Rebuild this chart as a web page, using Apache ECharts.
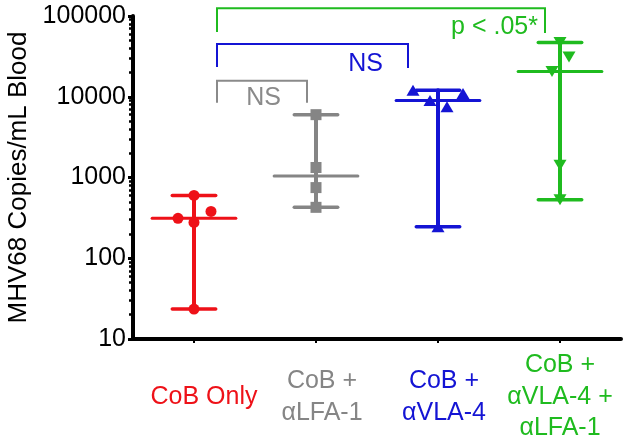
<!DOCTYPE html>
<html>
<head>
<meta charset="utf-8">
<script src="https://cdn.jsdelivr.net/npm/echarts@6/dist/echarts.min.js"></script>
<style>html,body{margin:0;padding:0;background:#fff}#c{width:628px;height:444px}</style>
</head>
<body>
<div id="c"></div>
<script>
// ---- data ----
const categories = ['CoB Only', 'CoB +\nαLFA-1', 'CoB +\nαVLA-4', 'CoB +\nαVLA-4 +\nαLFA-1'];
const cobOnly     = [600, 312, 278, 380, 23.5];
const cobLfa1     = [6000, 1330, 750, 427];
const cobVla4     = [12000, 9000, 7500, 11000, 245];
const cobVla4Lfa1 = [47000, 31000, 20500, 1420, 530];
const medians     = [312, 1040, 9000, 20500];
const yTicks      = [10, 100, 1000, 10000, 100000];
const comparisons = ['NS', 'NS', 'p < .05*'];

// ---- layout / style (not data) ----
const FONT = 'Arial, "Liberation Sans", sans-serif';
const colors = ['#ee1118', '#858585', '#1414d4', '#1fbb1f'];
const jitter = [[0, -16, 0, 17, 0], [0, 0, 0, 0], [-25, -8, 9, 25, 0], [0, 9, -8, 0, 0]];
const symbols = ['circle', 'rect', 'triangle', 'triangle'];
const symbolRot = [0, 0, 0, 180];
const symbolSizes = [11, 11, [13, 11], [13, 11]];
const groups = [cobOnly, cobLfa1, cobVla4, cobVla4Lfa1];
// bracket: [fromCat, toCat, topValue, bottomValueLeft, bottomValueRight]
const bracketLevels = [[0, 1, 15800, 8400, 8400], [0, 2, 45000, 23300, 22700], [0, 3, 124500, 63400, 61500]];
const bracketColors = ['#8a8a8a', '#1414d4', '#1fbb1f'];
const bracketDx = [[23, -9], [23, -30], [23, -15]];
const bracketText = [[-26, 17], [-25, 20], [-7, 19]];

const chart = echarts.init(document.getElementById('c'), null, {renderer: 'canvas'});

const summaryData = groups.map((g, i) => [i, Math.min(...g), medians[i], Math.max(...g)]);

const series = [];
series.push({
  type: 'custom',
  z: 2,
  encode: {x: 0, y: [1, 2, 3]},
  data: summaryData,
  renderItem(params, api) {
    const i = api.value(0);
    const pMin = api.coord([i, api.value(1)]);
    const pMed = api.coord([i, api.value(2)]);
    const pMax = api.coord([i, api.value(3)]);
    const band = api.size([1, 0])[0];
    const capH = band * 0.178, medH = band * 0.343;
    const c = colors[i];
    const st = (w) => ({stroke: c, lineWidth: w, lineCap: 'round'});
    return {type: 'group', children: [
      {type: 'line', shape: {x1: pMax[0], y1: pMax[1], x2: pMin[0], y2: pMin[1]}, style: st(4)},
      {type: 'line', shape: {x1: pMax[0] - capH, y1: pMax[1], x2: pMax[0] + capH, y2: pMax[1]}, style: st(3.5)},
      {type: 'line', shape: {x1: pMin[0] - capH, y1: pMin[1], x2: pMin[0] + capH, y2: pMin[1]}, style: st(3.5)},
      {type: 'line', shape: {x1: pMed[0] - medH, y1: pMed[1], x2: pMed[0] + medH, y2: pMed[1]}, style: st(3)}
    ]};
  }
});

groups.forEach((g, i) => {
  series.push({
    type: 'scatter',
    z: 5,
    symbol: symbols[i],
    symbolRotate: symbolRot[i],
    symbolSize: symbolSizes[i],
    itemStyle: {color: colors[i], opacity: 1},
    data: g.map((v, k) => ({value: [i, v], symbolOffset: [jitter[i][k], 0]}))
  });
});

series.push({
  type: 'custom',
  z: 3,
  encode: {x: [0, 1], y: [2, 3, 4]},
  data: bracketLevels,
  renderItem(params, api) {
    const k = params.dataIndex;
    const a = api.value(0), b = api.value(1);
    const top = api.coord([a, api.value(2)])[1];
    const botL = api.coord([a, api.value(3)])[1];
    const botR = api.coord([b, api.value(4)])[1];
    const xL = api.coord([a, api.value(2)])[0] + bracketDx[k][0];
    const xR = api.coord([b, api.value(2)])[0] + bracketDx[k][1];
    const c = bracketColors[k];
    return {type: 'group', children: [
      {type: 'polyline', shape: {points: [[xL, botL], [xL, top], [xR, top], [xR, botR]]},
       style: {stroke: c, lineWidth: 2, fill: null}},
      {type: 'text', x: xR + bracketText[k][0], y: top + bracketText[k][1],
       style: {text: comparisons[k], fill: c, font: '25px ' + FONT, align: 'right', verticalAlign: 'middle'}}
    ]};
  }
});

const rich = {};
colors.forEach((c, i) => {
  rich['c' + i] = {color: c, fontSize: 25, fontFamily: FONT, lineHeight: 31.5, align: 'center',
    padding: [0, 0, 0, [20, 12, 12, 0][i]]};
});

chart.setOption({
  animation: false,
  backgroundColor: '#fff',
  grid: {left: 133, right: 7, top: 16, bottom: 105, containLabel: false, outerBoundsMode: 'none'},
  xAxis: {
    type: 'category',
    data: categories,
    boundaryGap: true,
    axisLine: {lineStyle: {color: '#000', width: 4}},
    axisTick: {show: true, alignWithLabel: true, length: 4, lineStyle: {color: '#000', width: 2}},
    axisLabel: {
      interval: 0, margin: 58, verticalAlign: 'middle',
      formatter: (v, idx) => v.split('\n').map(l => '{c' + idx + '|' + l + '}').join('\n'),
      rich
    },
    splitLine: {show: false}
  },
  yAxis: {
    type: 'log',
    logBase: 10,
    min: yTicks[0],
    max: yTicks[yTicks.length - 1],
    name: 'MHV68 Copies/mL Blood',
    nameLocation: 'middle',
    nameGap: 100,
    nameTextStyle: {color: '#000', fontSize: 26, fontFamily: FONT},
    axisLine: {show: true, lineStyle: {color: '#000', width: 4}},
    axisTick: {show: true, length: 5, lineStyle: {color: '#000', width: 3}},
    minorTick: {show: true, splitNumber: 9, length: 4, lineStyle: {color: '#000', width: 2.5}},
    axisLabel: {color: '#000', fontSize: 25, fontFamily: FONT, margin: 7, formatter: v => String(v)},
    splitLine: {show: false}
  },
  series
});
</script>
</body>
</html>
